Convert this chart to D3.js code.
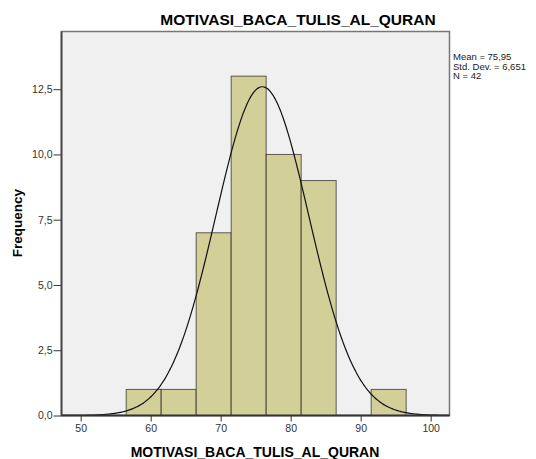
<!DOCTYPE html>
<html>
<head>
<meta charset="utf-8">
<script src="https://cdn.jsdelivr.net/npm/d3@7"></script>
<style>
  body { margin: 0; background: #fff; }
  svg text { font-family: "Liberation Sans", Arial, sans-serif; }
</style>
</head>
<body>
<div id="chart"></div>
<script>
// histogram data
var binEdges = [56.5, 61.5, 66.5, 71.5, 76.5, 81.5, 86.5, 91.5, 96.5];
var counts   = [1, 1, 7, 13, 10, 9, 0, 1];
var xTicks   = [50, 60, 70, 80, 90, 100];
var yTicks   = [0, 2.5, 5, 7.5, 10, 12.5];
var statMean = 75.95;
var statSd   = 6.651;
var statN    = 42;
var title    = "MOTIVASI_BACA_TULIS_AL_QURAN";

var width  = 536,
    height = 459;

var plot = { left: 61.5, right: 449.5, top: 31.5, bottom: 415.5 };

var svg = d3.select("#chart")
  .append("svg")
    .attr("width", width)
    .attr("height", height);

var x = d3.scaleLinear()
  .domain([47.26, 102.69])
  .range([plot.left, plot.right]);

var y = d3.scaleLinear()
  .domain([0, 14.71])
  .range([plot.bottom, plot.top]);

var comma = function(d) { return d3.format(".1f")(d).replace(".", ","); };

// plot background
svg.append("rect")
  .attr("x", plot.left)
  .attr("y", plot.top)
  .attr("width", plot.right - plot.left)
  .attr("height", plot.bottom - plot.top)
  .attr("fill", "#f0f0f0")
  .attr("stroke", "#777")
  .attr("stroke-width", 1.5);

// bars
var bins = counts.map(function(c, i) {
  return { x0: binEdges[i], x1: binEdges[i + 1], count: c };
}).filter(function(b) { return b.count > 0; });

svg.selectAll("rect.bar")
  .data(bins)
  .enter()
  .append("rect")
    .attr("class", "bar")
    .attr("x", function(d) { return x(d.x0); })
    .attr("y", function(d) { return y(d.count); })
    .attr("width", function(d) { return x(d.x1) - x(d.x0); })
    .attr("height", function(d) { return y(0) - y(d.count); })
    .attr("fill", "#d3cf98")
    .attr("stroke", "#000")
    .attr("stroke-opacity", 0.6)
    .attr("stroke-width", 1);

// normal curve scaled to counts (N * bin width * density)
var binWidth = binEdges[1] - binEdges[0];
var curvePts = d3.range(x.domain()[0], x.domain()[1] + 0.01, 0.2).map(function(v) {
  var z = (v - statMean) / statSd;
  return [v, statN * binWidth * Math.exp(-0.5 * z * z) / (statSd * Math.sqrt(2 * Math.PI))];
});

svg.append("path")
  .datum(curvePts)
  .attr("d", d3.line().x(function(d) { return x(d[0]); }).y(function(d) { return y(d[1]); }).curve(d3.curveBasis))
  .attr("fill", "none")
  .attr("stroke", "#111")
  .attr("stroke-width", 1.2);

// axes
var xAxis = svg.append("g")
  .attr("transform", "translate(0," + plot.bottom + ")")
  .call(d3.axisBottom(x).tickValues(xTicks).tickSize(6).tickPadding(3).tickFormat(d3.format("d")));

var yAxis = svg.append("g")
  .attr("transform", "translate(" + plot.left + ",0)")
  .call(d3.axisLeft(y).tickValues(yTicks).tickSize(8).tickPadding(1).tickFormat(comma));

[xAxis, yAxis].forEach(function(a) {
  a.select(".domain").remove();
  a.selectAll("line").attr("stroke", "#333");
  a.selectAll("text").attr("fill", "#333").style("font-size", "10.5px");
});

svg.append("line")
  .attr("x1", plot.left).attr("x2", plot.right)
  .attr("y1", plot.bottom).attr("y2", plot.bottom)
  .attr("stroke", "#333").attr("stroke-width", 1.8);
svg.append("line")
  .attr("x1", plot.left).attr("x2", plot.left)
  .attr("y1", plot.top).attr("y2", plot.bottom)
  .attr("stroke", "#444").attr("stroke-width", 1.8);

// titles
svg.append("text")
  .attr("x", 298)
  .attr("y", 24.5)
  .attr("text-anchor", "middle")
  .style("font-size", "15.5px")
  .style("font-weight", "bold")
  .text(title);

svg.append("text")
  .attr("x", 255)
  .attr("y", 457)
  .attr("text-anchor", "middle")
  .style("font-size", "14px")
  .style("font-weight", "bold")
  .text(title);

svg.append("text")
  .attr("transform", "translate(21.5,223) rotate(-90)")
  .attr("text-anchor", "middle")
  .style("font-size", "13.5px")
  .style("font-weight", "bold")
  .text("Frequency");

// stats legend
var statLines = [
  "Mean = " + d3.format(".2f")(statMean).replace(".", ","),
  "Std. Dev. = " + d3.format(".3f")(statSd).replace(".", ","),
  "N = " + statN
];
svg.selectAll("text.stat")
  .data(statLines)
  .enter()
  .append("text")
    .attr("class", "stat")
    .attr("x", 453)
    .attr("y", function(d, i) { return 60 + i * 9.5; })
    .style("font-size", "9.5px")
    .attr("fill", "#222")
    .text(function(d) { return d; });
</script>
</body>
</html>
